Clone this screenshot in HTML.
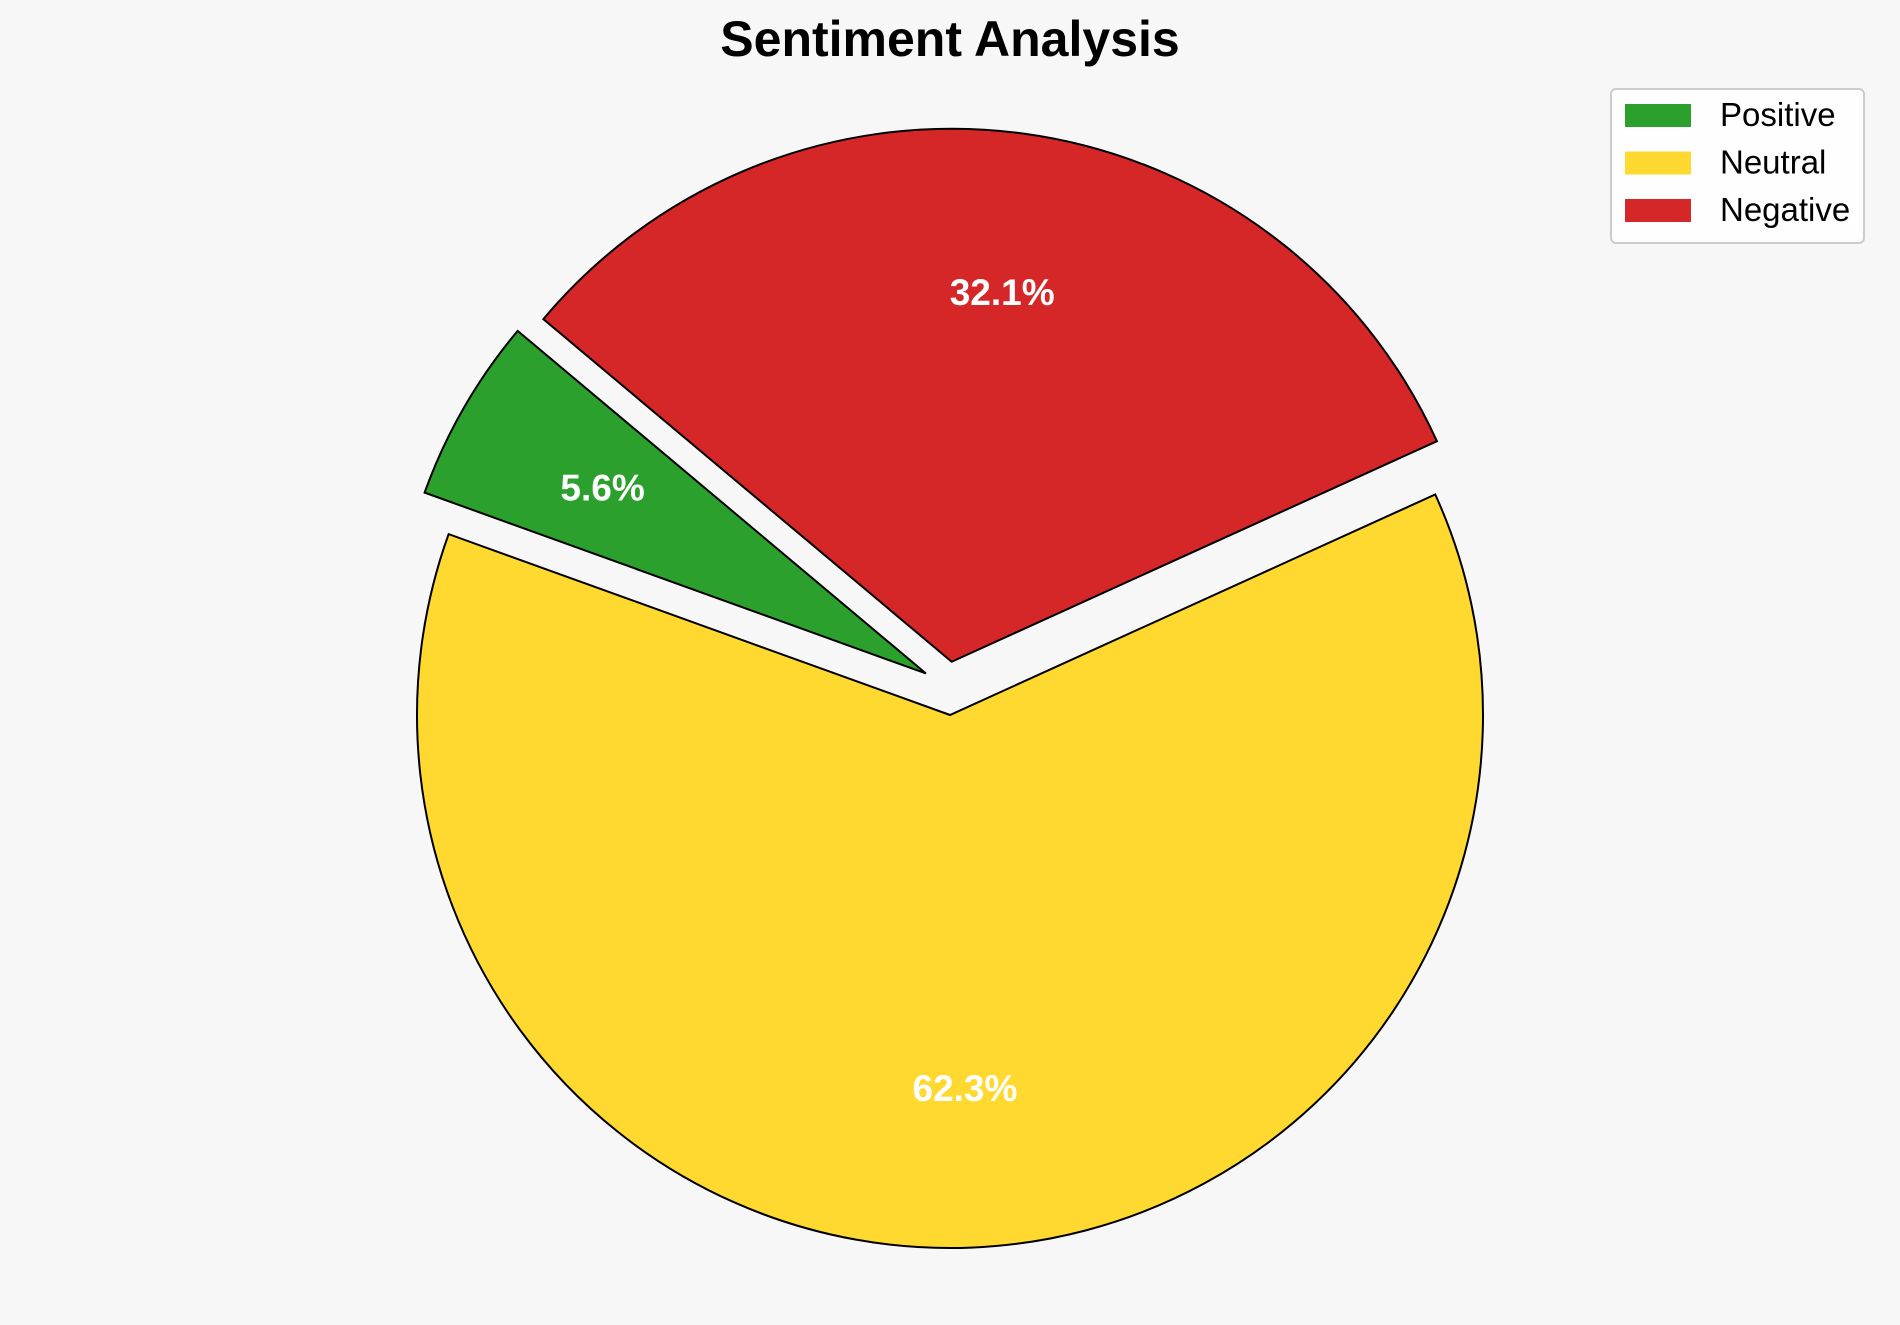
<!DOCTYPE html>
<html><head><meta charset="utf-8"><style>
html,body{margin:0;padding:0;background:#f7f7f7;}
svg{display:block;font-family:"Liberation Sans",Arial,sans-serif;}
</style></head><body>
<svg id="chart" width="1900" height="1325" viewBox="0 0 1900 1325">
<rect x="0" y="0" width="1900" height="1325" fill="#f7f7f7"/>
<text x="950" y="56" text-anchor="middle" font-size="50" font-weight="bold" fill="#000">Sentiment Analysis</text>
<g id="slices"></g>
<g id="legend">
<rect x="1611" y="89" width="253" height="154" rx="5" fill="#fff" fill-opacity="0.8" stroke="#ccc" stroke-width="2"/>
</g>
</svg>
<script>
const categories = ["Positive", "Neutral", "Negative"];
const values = [5.6, 62.3, 32.1];
const explode = [0.09, 0, 0.1];
const colors = ["#2ca02c", "#ffd92f", "#d62728"];
const cx = 950, cy = 715, R = 533, startAngle = 140, pctDist = 0.7;
const NS = "http://www.w3.org/2000/svg";
const total = values.reduce((a,b)=>a+b,0);
const g = document.getElementById("slices");
function pt(x,y,r,deg){const a=deg*Math.PI/180;return [x+r*Math.cos(a), y-r*Math.sin(a)];}
let ang = startAngle;
values.forEach((v,i)=>{
  const sweep = v/total*360;
  const a0 = ang, a1 = ang+sweep, mid = (a0+a1)/2;
  const offAng = i===0 ? mid-30 : (i===2 ? mid+6 : mid);
  const [ox,oy] = pt(cx,cy,explode[i]*R,offAng);
  const [x0,y0] = pt(ox,oy,R,a0), [x1,y1] = pt(ox,oy,R,a1);
  const large = sweep>180?1:0;
  const p = document.createElementNS(NS,"path");
  p.setAttribute("d",`M${ox},${oy} L${x0},${y0} A${R},${R} 0 ${large} 0 ${x1},${y1} Z`);
  p.setAttribute("fill",colors[i]);
  p.setAttribute("stroke","#000");
  p.setAttribute("stroke-width","2");
  
  
  g.appendChild(p);
  const [lx,ly] = pt(ox,oy,R*pctDist,mid);
  const t = document.createElementNS(NS,"text");
  t.setAttribute("x",lx); t.setAttribute("y",ly+13);
  t.setAttribute("text-anchor","middle");
  t.setAttribute("font-size","37"); t.setAttribute("font-weight","bold"); t.setAttribute("fill","#fff");
  t.textContent = v.toFixed(1)+"%";
  
  
  g.appendChild(t);
  ang = a1;
});
const lg = document.getElementById("legend");
categories.forEach((c,i)=>{
  const y = 115 + i*47.5;
  const r = document.createElementNS(NS,"rect");
  r.setAttribute("x",1625); r.setAttribute("y",y-11); r.setAttribute("width",66); r.setAttribute("height",23);
  r.setAttribute("fill",colors[i]);
  
  
  lg.appendChild(r);
  const t = document.createElementNS(NS,"text");
  t.setAttribute("x",1720); t.setAttribute("y",y+11);
  t.setAttribute("font-size","33"); t.setAttribute("fill","#000");
  t.textContent = c;
  
  
  lg.appendChild(t);
});
</script>
</body></html>
